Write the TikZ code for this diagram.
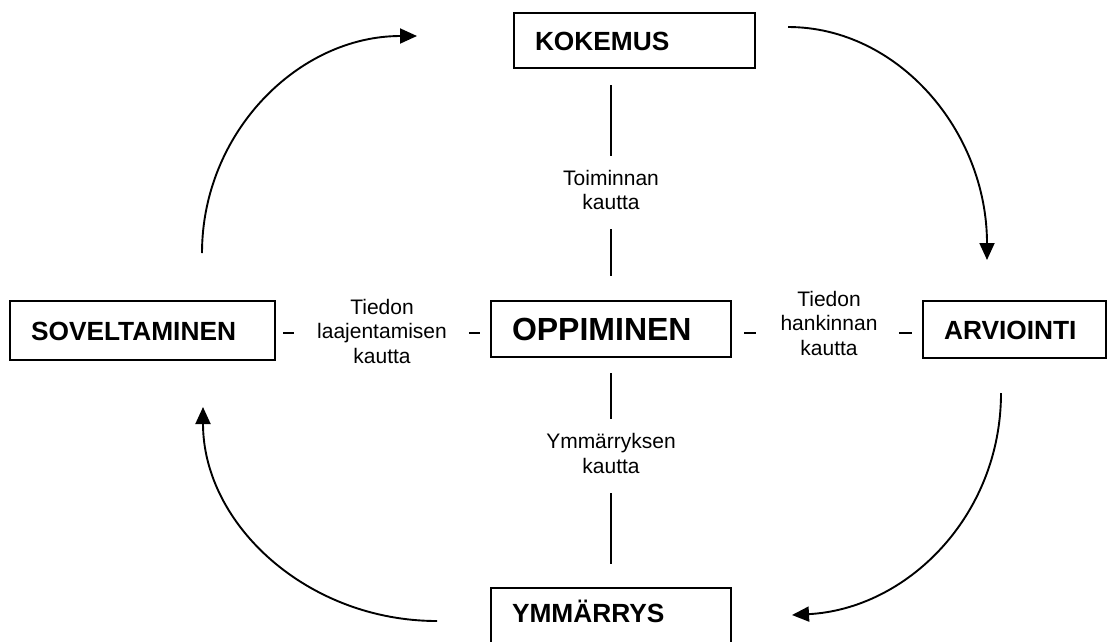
\documentclass[tikz,border=0pt]{standalone}
\usepackage{fontspec}
\setmainfont{Liberation Sans}
\usetikzlibrary{arrows.meta,calc}
\begin{document}
\begin{tikzpicture}[x=1pt,y=-1pt,
  box/.style={draw, line width=2.2pt, inner xsep=21pt, inner ysep=0pt,
    align=left, text height=19pt, text depth=0pt,
    font=\bfseries\fontsize{26.3}{30}\selectfont},
  lab/.style={align=center, inner sep=0pt,
    font=\fontsize{21}{24.5}\selectfont},
  conn/.style={line width=1.9pt},
  cyclearrow/.style={line width=1.9pt, -{Triangle[length=17pt,width=15pt]}}]
\useasboundingbox (0,0) rectangle (1110,641);
\clip (0,0) rectangle (1110,641);

% the five stages
\node[box, text width=199pt, minimum height=55pt] (kok) at (634.5,40.5) {KOKEMUS};
\node[box, text width=223pt, minimum height=59pt] (sov) at (142.5,330.5) {SOVELTAMINEN};
\node[box, text width=198pt, minimum height=56pt, text height=23pt,
  font=\bfseries\fontsize{32}{36}\selectfont] (opp) at (611,329) {OPPIMINEN};
\node[box, text width=141pt, minimum height=57pt] (arv) at (1014.5,329.5) {ARVIOINTI};
\node[box, text width=198pt, minimum height=62pt, text depth=12pt] (ymm) at (611,619) {YMMÄRRYS};

% labels on the links to the centre
\node[lab] (toim) at (611,190) {Toiminnan\\kautta};
\node[lab] (ymml) at (611,453.5) {Ymmärryksen\\kautta};
\node[lab] (laa) at (382,331) {Tiedon\\laajentamisen\\kautta};
\node[lab] (hank) at (829,323) {Tiedon\\hankinnan\\kautta};

% vertical links
\draw[conn] ($(toim.center |- kok.south)+(0,16)$) -- ([yshift=34pt]toim.center);
\draw[conn] ([yshift=-39pt]toim.center) -- ([yshift=24pt]opp.north);
\draw[conn] ([yshift=-15pt]opp.south) -- ([yshift=34.5pt]ymml.center);
\draw[conn] ([yshift=-39.5pt]ymml.center) -- ([yshift=23pt]ymm.north);

% short horizontal links
\draw[conn] ([xshift=7pt,yshift=-2.5pt]sov.east) -- ++(11,0);
\draw[conn] ([xshift=-21pt,yshift=-4pt]opp.west) -- ++(11,0);
\draw[conn] ([xshift=12pt,yshift=-4pt]opp.east) -- ++(12,0);
\draw[conn] ([xshift=-23pt,yshift=-3.5pt]arv.west) -- ++(13,0);

% the learning cycle
\coordinate (a1s) at (202,253);  \coordinate (a1e) at (417,36);
\coordinate (a2s) at (788,27);   \coordinate (a2e) at (987,260);
\coordinate (a3s) at (1001,393); \coordinate (a3e) at (792,615);
\coordinate (a4s) at (437,621);  \coordinate (a4e) at (203,407);
\draw[cyclearrow] (a1s) .. controls +(0,-120) and +(-119,0) .. (a1e);
\draw[cyclearrow] (a2s) .. controls +(110,0) and +(0,-129) .. (a2e);
\draw[cyclearrow] (a3s) .. controls +(0,123) and +(115,-6) .. (a3e);
\draw[cyclearrow] (a4s) .. controls +(-129,0) and +(0,118) .. (a4e);
\end{tikzpicture}
\end{document}
